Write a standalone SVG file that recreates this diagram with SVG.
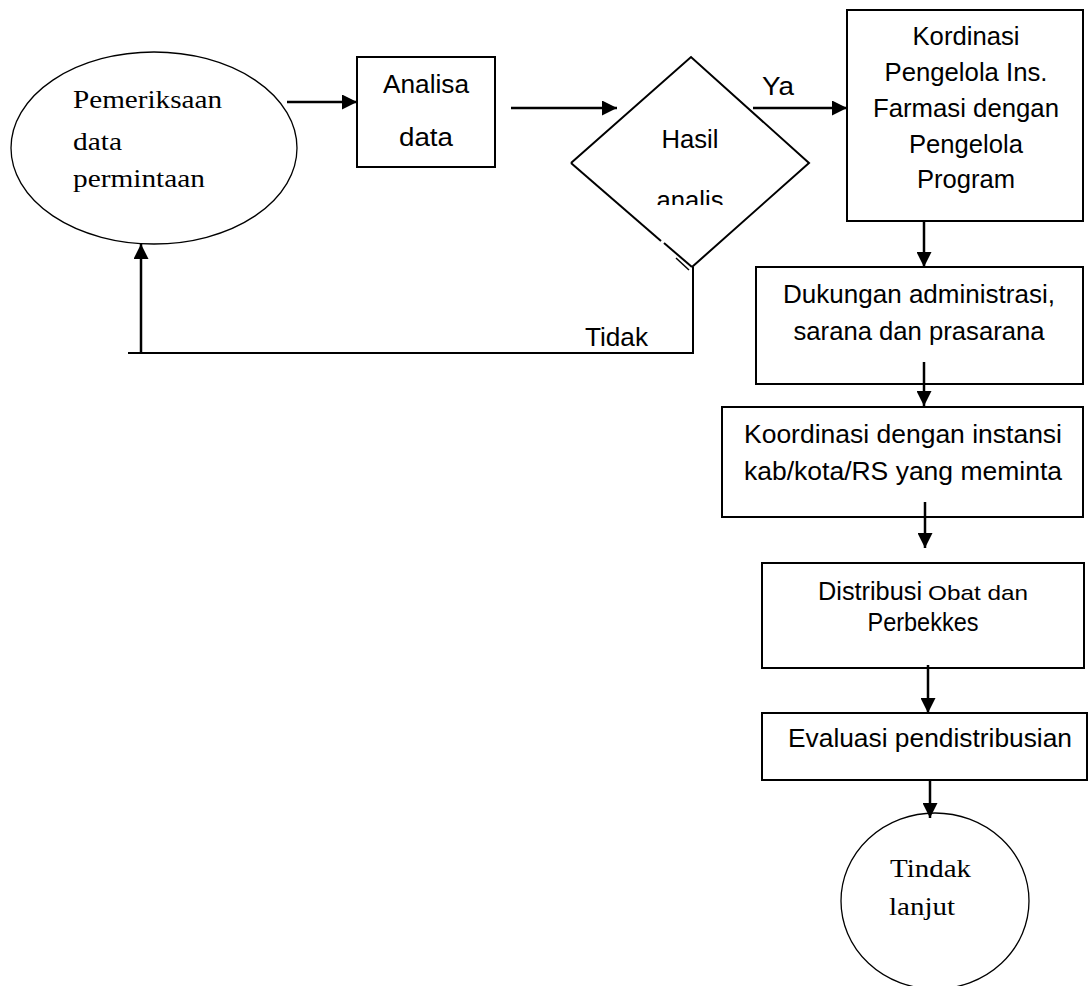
<svg xmlns="http://www.w3.org/2000/svg" width="1089" height="986" viewBox="0 0 1089 986">
  <style>
    .shape { fill: #fff; stroke: #000; stroke-width: 2; }
    .thin { fill: #fff; stroke: #000; stroke-width: 1.3; }
    .conn { fill: none; stroke: #000; stroke-width: 2.5; }
    .sans { font-family: "Liberation Sans", Arial, sans-serif; font-size: 25px; fill: #000; }
    .serif { font-family: "Liberation Serif", "Times New Roman", serif; font-size: 26px; fill: #000; }
    .mid { text-anchor: middle; }
  </style>
  <defs>
    <marker id="arrow" viewBox="0 0 10 10" refX="10" refY="5" markerUnits="userSpaceOnUse" markerWidth="15" markerHeight="15" orient="auto">
      <path d="M0,0 L10,5 L0,10 z" fill="#000"/>
    </marker>
    <clipPath id="clip-analis">
      <rect x="600" y="150" width="180" height="55"/>
    </clipPath>
  </defs>

  <!-- start: request data check -->
  <g id="pemeriksaan">
    <ellipse class="thin" cx="154" cy="148" rx="143" ry="96"/>
    <text class="serif" x="73" y="108" textLength="149" lengthAdjust="spacingAndGlyphs">Pemeriksaan</text>
    <text class="serif" x="73" y="150" textLength="49" lengthAdjust="spacingAndGlyphs">data</text>
    <text class="serif" x="73" y="187" textLength="132" lengthAdjust="spacingAndGlyphs">permintaan</text>
  </g>

  <g id="analisa">
    <rect class="shape" x="357" y="57" width="138" height="110"/>
    <text class="sans mid" x="426" y="93" textLength="86" lengthAdjust="spacingAndGlyphs">Analisa</text>
    <text class="sans mid" x="426" y="146" textLength="54" lengthAdjust="spacingAndGlyphs">data</text>
  </g>

  <!-- decision -->
  <g id="hasil">
    <path d="M571,163 L691,57 L809,163 L692,267" fill="#fff" stroke="none"/>
    <path d="M571,163 L691,57 L809,163 L692,267" fill="none" stroke="#000" stroke-width="2"/>
    <path d="M571,163 L661,241" fill="none" stroke="#000" stroke-width="2"/>
    <path d="M664,243 L692,267" fill="none" stroke="#000" stroke-width="2"/>
    <path d="M677,256 L690,268" fill="none" stroke="#000" stroke-width="1.5" transform="translate(-1,2)"/>
    <text class="sans mid" x="690" y="148" textLength="57" lengthAdjust="spacingAndGlyphs">Hasil</text>
    <text class="sans mid" x="690" y="209" textLength="67" lengthAdjust="spacingAndGlyphs" clip-path="url(#clip-analis)">analis</text>
  </g>

  <g id="kordinasi">
    <rect class="shape" x="847" y="10" width="236" height="211"/>
    <text class="sans mid" x="966" y="45" textLength="107" lengthAdjust="spacingAndGlyphs">Kordinasi</text>
    <text class="sans mid" x="966" y="81" textLength="163" lengthAdjust="spacingAndGlyphs">Pengelola Ins.</text>
    <text class="sans mid" x="966" y="117" textLength="186" lengthAdjust="spacingAndGlyphs">Farmasi dengan</text>
    <text class="sans mid" x="966" y="153" textLength="114" lengthAdjust="spacingAndGlyphs">Pengelola</text>
    <text class="sans mid" x="966" y="188" textLength="98" lengthAdjust="spacingAndGlyphs">Program</text>
  </g>

  <g id="dukungan">
    <rect class="shape" x="756" y="267" width="327" height="117"/>
    <text class="sans mid" x="919" y="303" textLength="272" lengthAdjust="spacingAndGlyphs">Dukungan administrasi,</text>
    <text class="sans mid" x="919" y="340" textLength="251" lengthAdjust="spacingAndGlyphs">sarana dan prasarana</text>
  </g>

  <g id="koordinasi">
    <rect class="shape" x="722" y="407" width="361" height="110"/>
    <text class="sans mid" x="903" y="443" textLength="318" lengthAdjust="spacingAndGlyphs">Koordinasi dengan instansi</text>
    <text class="sans mid" x="903" y="480" textLength="318" lengthAdjust="spacingAndGlyphs">kab/kota/RS yang meminta</text>
  </g>

  <g id="distribusi">
    <rect class="shape" x="762" y="563" width="322" height="105"/>
    <text class="sans mid" x="923" y="600"><tspan textLength="104" lengthAdjust="spacingAndGlyphs">Distribusi</tspan><tspan font-size="21" dx="6" textLength="100" lengthAdjust="spacingAndGlyphs">Obat dan</tspan></text>
    <text class="sans mid" x="923" y="631" font-size="21" textLength="111" lengthAdjust="spacingAndGlyphs">Perbekkes</text>
  </g>

  <g id="evaluasi">
    <rect class="shape" x="762" y="713" width="325" height="67"/>
    <text class="sans mid" x="930" y="747" textLength="284" lengthAdjust="spacingAndGlyphs">Evaluasi pendistribusian</text>
  </g>

  <g id="tindak-lanjut">
    <ellipse class="thin" cx="935" cy="901" rx="94" ry="88"/>
    <text class="serif" x="890" y="877" font-size="28" textLength="81" lengthAdjust="spacingAndGlyphs">Tindak</text>
    <text class="serif" x="889" y="915" font-size="28" textLength="66" lengthAdjust="spacingAndGlyphs">lanjut</text>
  </g>

  <!-- connectors -->
  <g id="connectors">
    <line class="conn" x1="287" y1="102" x2="357" y2="102" marker-end="url(#arrow)"/>
    <line class="conn" x1="511" y1="108" x2="617" y2="108" marker-end="url(#arrow)"/>
    <line class="conn" x1="753" y1="108" x2="847" y2="108" marker-end="url(#arrow)"/>
    <text class="sans mid" x="778" y="95" font-size="23" textLength="32" lengthAdjust="spacingAndGlyphs">Ya</text>
    <polyline fill="none" stroke="#000" stroke-width="2" points="693,267 693,353 128,353"/>
    <line class="conn" x1="141" y1="353" x2="141" y2="244" marker-end="url(#arrow)"/>
    <text class="sans" x="585" y="346" textLength="63" lengthAdjust="spacingAndGlyphs">Tidak</text>
    <line class="conn" x1="924" y1="221" x2="924" y2="267" marker-end="url(#arrow)"/>
    <line class="conn" x1="924" y1="362" x2="924" y2="406" marker-end="url(#arrow)"/>
    <line class="conn" x1="925" y1="502" x2="925" y2="548" marker-end="url(#arrow)"/>
    <line class="conn" x1="928" y1="665" x2="928" y2="713" marker-end="url(#arrow)"/>
    <line class="conn" x1="930" y1="780" x2="930" y2="818" marker-end="url(#arrow)"/>
  </g>
</svg>
